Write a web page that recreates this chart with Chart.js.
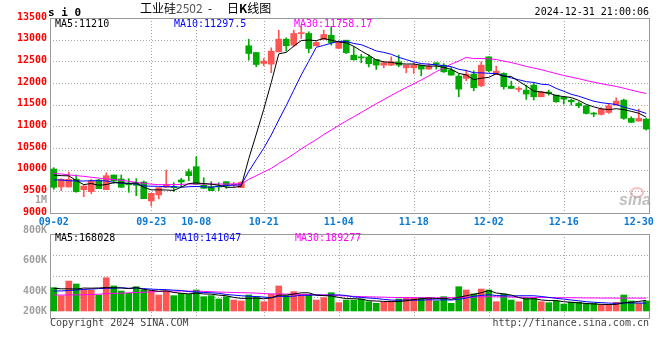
<!DOCTYPE html>
<html><head><meta charset="utf-8">
<script src="https://cdn.jsdelivr.net/npm/chart.js@4.4.1/dist/chart.umd.min.js"></script>
<style>
html,body{margin:0;padding:0;background:#fff;}
#wrap{position:relative;width:660px;height:360px;overflow:hidden;background:#fff;}
canvas{position:absolute;left:0;top:0;}
.t{position:absolute;white-space:pre;font-family:"DejaVu Sans Mono",monospace;font-size:10px;line-height:10px;z-index:5;}
</style></head><body>
<div id="wrap">
<canvas id="price" width="660" height="232"></canvas>
<canvas id="vol" width="660" height="360"></canvas>
<div class="t" style="left:48px;top:7px;font-weight:bold;font-size:11px;line-height:11px;">s i 0</div>
<div class="t" style="left:140px;top:2px;font-family:'Noto Sans CJK SC',sans-serif;font-size:12px;line-height:12px;">工业硅<span style="color:#555">2502</span></div>
<div class="t" style="left:208px;top:2px;font-family:'Noto Sans CJK SC',sans-serif;font-size:12px;line-height:12px;">-</div>
<div class="t" style="left:227px;top:2px;font-family:'Noto Sans CJK SC',sans-serif;font-size:12px;line-height:12px;">日<b>K</b>线图</div>
<div class="t" style="right:11px;top:7px;">2024-12-31 21:00:06</div>
<div class="t" style="left:55px;top:19px;color:#000;">MA5:11210</div>
<div class="t" style="left:174px;top:19px;color:#0000ff;">MA10:11297.5</div>
<div class="t" style="left:294px;top:19px;color:#ff00ff;">MA30:11758.17</div>
<div class="t" style="left:55px;top:233px;color:#000;">MA5:168028</div>
<div class="t" style="left:175px;top:233px;color:#0000ff;">MA10:141047</div>
<div class="t" style="left:295px;top:233px;color:#ff00ff;">MA30:189277</div>
<div class="t" style="left:50px;top:318px;color:#444;">Copyright 2024 SINA.COM</div>
<div class="t" style="right:11px;top:318px;color:#444;">http://finance.sina.com.cn</div>
<div style="position:absolute;left:630px;top:187px;width:10px;height:7px;border:2px solid rgba(235,120,120,0.45);border-radius:50%;z-index:4;"></div>
<div class="t" style="left:619px;top:192px;font-family:'Liberation Sans',sans-serif;font-style:italic;font-weight:bold;font-size:16px;line-height:16px;color:rgba(170,170,170,0.75);z-index:4;">sina</div>
</div>
<script>
const dates = ['09-02','09-03','09-04','09-05','09-06','09-09','09-10','09-11','09-12','09-13','09-18','09-19','09-20','09-23','09-24','09-25','09-26','09-27','09-30','10-08','10-09','10-10','10-11','10-14','10-15','10-16','10-17','10-18','10-21','10-22','10-23','10-24','10-25','10-28','10-29','10-30','10-31','11-01','11-04','11-05','11-06','11-07','11-08','11-11','11-12','11-13','11-14','11-15','11-18','11-19','11-20','11-21','11-22','11-25','11-26','11-27','11-28','11-29','12-02','12-03','12-04','12-05','12-06','12-09','12-10','12-11','12-12','12-13','12-16','12-17','12-18','12-19','12-20','12-23','12-24','12-25','12-26','12-27','12-30','12-31'];
const tickDates = ['09-02','09-23','10-08','10-21','11-04','11-18','12-02','12-16','12-30'];
const gridDates = ['09-23','10-08','10-21','11-04','11-18','12-02','12-16'];
const priceGridValues = [9500,10000,10500,11000,11500,12000,12500,13000];
const volGridValues = [200000,400000,600000];
const volTickLabels = ['800K','600K','400K','200K'];

const opens = [10015,9600,9600,9777,9539,9493,9762,9539,9877,9785,
 9685,9685,9715,9278,9416,9593,9600,9762,9954,10069,
 9646,9608,9610,9723,9640,9585,12858,12704,12451,12435,
 12719,13011,12873,13140,13143,12857,13004,13100,12800,12988,
 12642,12600,12600,12543,12412,12412,12489,12351,12351,12412,
 12320,12466,12412,12297,12159,12105,12205,11936,12604,12197,
 12220,11928,11851,11836,11951,11682,11790,11720,11667,11605,
 11528,11475,11298,11275,11321,11490,11605,11183,11121,11167];
const highs = [10046,9792,9946,9877,9630,9777,9777,9930,9877,9877,
 9792,9792,9738,9454,9585,9992,9700,9800,10015,10299,
 9815,9723,9700,9723,9708,9723,13011,12704,12566,12812,
 13219,13042,13219,13311,13180,12960,13219,13300,12960,12988,
 12840,12660,12650,12543,12500,12604,12643,12412,12466,12412,
 12451,12466,12450,12358,12205,12297,12282,12489,12604,12389,
 12236,12044,11913,11951,12005,11813,11836,11720,11682,11628,
 11567,11475,11321,11429,11529,11659,11628,11221,11398,11183];
const lows = [9546,9516,9600,9477,9377,9447,9562,9539,9685,9593,
 9477,9400,9331,9162,9324,9593,9493,9608,9746,9662,
 9570,9516,9516,9570,9608,9585,12527,12374,12397,12235,
 12719,12735,12834,13027,12696,12857,13004,12873,12790,12681,
 12527,12466,12370,12312,12350,12400,12375,12235,12220,12166,
 12320,12320,12243,12182,11682,12051,11821,11913,12259,12197,
 11859,11874,11798,11621,11606,11682,11720,11552,11513,11490,
 11429,11283,11221,11260,11298,11490,11160,11091,11121,10914];
const closes = [9593,9777,9777,9493,9623,9739,9562,9861,9738,9593,
 9654,9639,9331,9454,9585,9646,9585,9715,9861,9662,
 9570,9516,9600,9623,9650,9708,12681,12427,12504,12735,
 13011,12858,13143,13150,12797,12934,13120,12934,12950,12697,
 12535,12580,12443,12412,12466,12489,12412,12412,12412,12320,
 12389,12428,12258,12182,11859,12205,11890,12412,12282,12274,
 11913,11874,11855,11744,11682,11798,11760,11567,11628,11567,
 11475,11298,11283,11398,11475,11582,11183,11091,11183,10937];

const ma5 = [9877,9862,9858,9750,9655,9680,9640,9656,9700,9698,
 9682,9695,9591,9534,9533,9531,9520,9597,9678,9694,
 9679,9665,9642,9594,9592,9619,10252,10818,11394,12011,
 12672,12707,12850,12979,12992,12976,13029,12987,12947,12927,
 12847,12739,12641,12533,12487,12478,12444,12438,12438,12409,
 12389,12392,12361,12315,12223,12186,12079,12110,12130,12213,
 12154,12151,12040,11932,11814,11791,11768,11710,11687,11664,
 11599,11507,11450,11404,11386,11407,11384,11346,11303,11210];
const ma10 = [9765,9762,9745,9740,9738,9745,9745,9740,9705,9690,
 9682,9668,9623,9619,9616,9606,9609,9594,9606,9613,
 9605,9593,9619,9636,9643,9649,9959,10230,10494,10801,
 11146,11480,11834,12187,12501,12824,12868,12919,12963,12959,
 12912,12884,12814,12740,12707,12663,12592,12540,12486,12448,
 12434,12418,12400,12377,12316,12288,12236,12236,12223,12218,
 12170,12115,12075,12031,12013,11972,11959,11875,11810,11739,
 11695,11637,11580,11546,11525,11503,11446,11398,11354,11298];
const ma30 = [9915,9900,9880,9862,9846,9825,9805,9785,9770,9754,
 9731,9708,9685,9665,9655,9654,9654,9660,9668,9670,
 9670,9668,9668,9668,9670,9677,9775,9860,9945,10030,
 10144,10247,10359,10481,10587,10693,10812,10914,11021,11125,
 11221,11319,11422,11521,11617,11712,11806,11896,11981,12070,
 12164,12261,12349,12435,12508,12591,12565,12565,12557,12542,
 12505,12472,12429,12383,12345,12308,12262,12217,12173,12135,
 12100,12057,12018,11984,11951,11921,11880,11836,11795,11758];

const volumes = [289000,212000,352000,324000,267000,267000,219000,384000,305000,257000,
 235000,298000,267000,257000,219000,257000,213000,235000,225000,267000,
 203000,213000,181000,203000,171000,162000,219000,203000,155000,225000,
 305000,213000,251000,225000,225000,171000,194000,241000,146000,171000,
 171000,181000,155000,140000,149000,162000,181000,194000,194000,194000,
 194000,162000,203000,140000,298000,267000,229000,276000,267000,155000,
 229000,171000,155000,194000,187000,155000,146000,162000,133000,150000,
 150000,140000,140000,130000,130000,149000,219000,162000,140000,162000];
const volMa5 = [283000,278000,278000,276000,285000,284000,286000,290000,288000,286000,
 280000,290000,272000,263000,255000,258000,243000,236000,230000,237000,
 229000,227000,218000,212000,196000,187000,187000,190000,183000,192000,
 218000,218000,228000,240000,240000,217000,213000,210000,196000,185000,
 184000,180000,165000,162000,158000,156000,157000,164000,175000,183000,
 190000,186000,188000,178000,198000,212000,226000,240000,262000,238000,
 230000,218000,195000,180000,185000,172000,166000,166000,155000,150000,
 145000,138000,134000,130000,128000,130000,145000,150000,158000,168028];
const volMa10 = [257000,258000,262000,267000,272000,276000,280000,283000,284000,288000,
 283000,286000,280000,275000,272000,270000,265000,262000,251000,247000,
 243000,240000,235000,224000,218000,212000,207000,204000,200000,193000,
 207000,205000,208000,216000,217000,219000,216000,220000,220000,214000,
 201000,196000,190000,186000,177000,171000,169000,172000,170000,170000,
 174000,172000,173000,171000,178000,190000,207000,215000,222000,214000,
 211000,210000,212000,212000,212000,205000,196000,187000,180000,171000,
 164000,155000,150000,146000,142000,140000,143000,143000,143000,141047];
const volMa30 = [219000,219000,220000,220000,221000,224000,226000,232000,235000,236000,
 240000,243000,245000,250000,252000,255000,257000,257000,256000,256000,
 254000,250000,247000,245000,243000,241000,240000,237000,233000,230000,
 229000,228000,227000,225000,224000,222000,220000,217000,213000,209000,
 206000,204000,202000,200000,198000,196000,195000,195000,194000,193000,
 193000,192000,193000,193000,195000,198000,199000,201000,203000,202000,
 201000,199000,198000,197000,196000,195000,195000,194000,193000,193000,
 192000,191000,191000,190000,190000,189000,190000,190000,189000,189277];

const RED = '#ff5555', GREEN = '#00aa00';
const candleColor = c => (closes[c.dataIndex] >= opens[c.dataIndex] ? RED : GREEN);
const MONO = 'DejaVu Sans Mono';
const lineDs = (data, color) => ({type:'line', data, borderColor:color, borderWidth:1, pointRadius:0, tension:0, fill:false, order:0});

function drawFrame(chart, hValues, yScale) {
  const {ctx, chartArea:a, scales:{x}} = chart;
  ctx.save();
  ctx.strokeStyle = '#a8a8a8'; ctx.lineWidth = 1; ctx.setLineDash([1,2]);
  ctx.beginPath();
  hValues.forEach(v => { const py = Math.round(yScale.getPixelForValue(v)) + 0.5; ctx.moveTo(a.left, py); ctx.lineTo(a.right, py); });
  gridDates.forEach(d => { const px = Math.round(x.getPixelForValue(dates.indexOf(d))) + 0.5; ctx.moveTo(px, a.top); ctx.lineTo(px, a.bottom); });
  ctx.stroke();
  ctx.setLineDash([]);
  ctx.strokeStyle = '#999';
  ctx.strokeRect(a.left + 0.5, a.top + 0.5, a.right - a.left - 1, a.bottom - a.top);
  ctx.restore();
}

new Chart(document.getElementById('price'), {
  type: 'bar',
  data: { labels: dates, datasets: [
    lineDs(ma5, '#000000'), lineDs(ma10, '#0000ff'), lineDs(ma30, '#ff00ff'),
    {data: opens.map((o,i) => [o, closes[i]]), backgroundColor: candleColor, barThickness: 6, minBarLength: 1, grouped: false, order: 1},
    {data: lows.map((l,i) => [l, highs[i]]), backgroundColor: candleColor, barThickness: 1, grouped: false, order: 2}
  ]},
  options: {
    responsive: false, animation: false, events: [],
    layout: {padding: {left: 0, right: 10, top: 18, bottom: 0}},
    plugins: {legend: {display: false}, tooltip: {enabled: false}},
    scales: {
      x: {offset: true, grid: {display: false, drawTicks: false}, border: {display: false},
          ticks: {autoSkip: false, maxRotation: 0, minRotation: 0, padding: 3, color: '#0a78d2',
                  font: {family: MONO, size: 10, weight: 'bold'},
                  callback: (v, i) => tickDates.includes(dates[i]) ? dates[i] : ''},
          afterFit: s => { s.height = 19; }},
      y: {min: 9000, max: 13500, grid: {display: false, drawTicks: false}, border: {display: false},
          ticks: {stepSize: 500, padding: 3, labelOffset: -1, color: '#ff0000', font: {family: MONO, size: 10, weight: 'bold'},
                  callback: v => String(v)},
          afterFit: s => { s.width = 50; }}
    }
  },
  plugins: [{id: 'pframe', beforeDatasetsDraw: ch => drawFrame(ch, priceGridValues, ch.scales.y)}]
});

new Chart(document.getElementById('vol'), {
  type: 'bar',
  data: { labels: dates, datasets: [
    lineDs(volMa5, '#000000'), lineDs(volMa10, '#0000ff'), lineDs(volMa30, '#ff00ff'),
    {data: volumes, backgroundColor: candleColor, barThickness: 6, base: 67000, grouped: false, order: 1}
  ]},
  options: {
    responsive: false, animation: false, events: [],
    layout: {padding: {left: 50, right: 10, top: 234, bottom: 42}},
    plugins: {legend: {display: false}, tooltip: {enabled: false}},
    scales: {
      x: {display: false, offset: true},
      y: {display: false, min: 0, max: 800000}
    }
  },
  plugins: [{id: 'vframe',
    beforeDatasetsDraw: ch => drawFrame(ch, volGridValues, ch.scales.y),
    afterDraw: ch => {
      const ctx = ch.ctx, a = ch.chartArea;
      ctx.save();
      ctx.font = 'bold 10px "' + MONO + '"';
      ctx.fillStyle = '#a0a0a0'; ctx.textAlign = 'right'; ctx.textBaseline = 'middle';
      const labelY = [a.top - 4, a.top + 26, a.top + 57, a.top + 77];
      volTickLabels.forEach((t, k) => ctx.fillText(t, a.left - 3, labelY[k]));
      ctx.fillText('1M', a.left - 3, a.top - 34);
      ctx.restore();
    }}]
});
</script>
</body></html>
